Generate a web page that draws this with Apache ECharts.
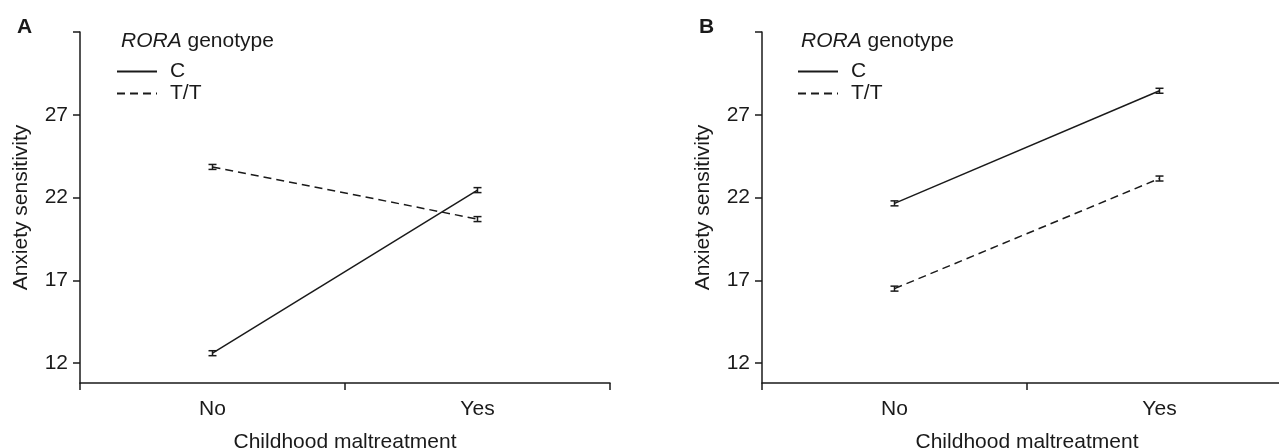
<!DOCTYPE html>
<html lang="en">

<head>
    <meta charset="UTF-8">
    <title>RORA genotype x childhood maltreatment</title>
    <style>
        * {
            margin: 0;
            padding: 0;
        }

        #chart {
            width: 1279px;
            height: 448px;
            background: #fff;
        }
    </style>
</head>

<body>
    <div id="chart"></div>

    <script src="https://cdn.jsdelivr.net/npm/echarts@6/dist/echarts.min.js"></script>
    <script>
        // data
        var categories = ['No', 'Yes'];
        var seriesNames = ['C', 'T/T'];
        var panelA_C = [12.6, 22.45];
        var panelA_TT = [23.85, 20.7];
        var panelB_C = [21.65, 28.45];
        var panelB_TT = [16.5, 23.15];
        var errA_C = [0.15, 0.15];
        var errA_TT = [0.15, 0.15];
        var errB_C = [0.15, 0.15];
        var errB_TT = [0.15, 0.15];
        var yTicks = [12, 17, 22, 27, 32];
        var yLabels = [12, 17, 22, 27];

        var font = 'Liberation Sans, Arial, sans-serif';
        var fs = 21;
        var ink = '#1a1a1a';
        var chart = echarts.init(document.getElementById('chart'));

        function errData(vals, errs) {
            return vals.map(function (v, i) {
                return [i, v - errs[i], v + errs[i]];
            });
        }

        function renderErr(params, api) {
            var lo = api.coord([api.value(0), api.value(1)]);
            var hi = api.coord([api.value(0), api.value(2)]);
            var w = 4;
            var st = { stroke: ink, lineWidth: 1.5 };
            return {
                type: 'group',
                children: [
                    { type: 'line', shape: { x1: lo[0], y1: lo[1], x2: hi[0], y2: hi[1] }, style: st },
                    { type: 'line', shape: { x1: lo[0] - w, y1: lo[1], x2: lo[0] + w, y2: lo[1] }, style: st },
                    { type: 'line', shape: { x1: hi[0] - w, y1: hi[1], x2: hi[0] + w, y2: hi[1] }, style: st }
                ]
            };
        }

        function xAxis(idx) {
            return {
                type: 'category',
                gridIndex: idx,
                data: categories,
                boundaryGap: true,
                name: 'Childhood maltreatment',
                nameLocation: 'middle',
                nameGap: 49,
                nameTextStyle: { color: ink, fontSize: fs, fontFamily: font },
                axisLine: { lineStyle: { color: ink, width: 1.5 } },
                axisTick: { show: true, interval: 0, length: 7, lineStyle: { color: ink, width: 1.5 } },
                axisLabel: { color: ink, fontSize: fs, fontFamily: font, margin: 16 },
                splitLine: { show: false }
            };
        }

        function yAxis(idx) {
            return {
                type: 'value',
                gridIndex: idx,
                min: 10.8,
                max: 32,
                name: 'Anxiety sensitivity',
                nameLocation: 'middle',
                nameRotate: 90,
                nameGap: 48,
                nameTextStyle: { color: ink, fontSize: fs, fontFamily: font },
                axisLine: { show: true, lineStyle: { color: ink, width: 1.5 } },
                axisTick: { show: true, length: 7, customValues: yTicks, lineStyle: { color: ink, width: 1.5 } },
                axisLabel: { color: ink, fontSize: fs, fontFamily: font, margin: 12, customValues: yLabels },
                splitLine: { show: false }
            };
        }

        function lineSeries(name, idx, data, dashed) {
            return {
                name: name,
                type: 'line',
                xAxisIndex: idx,
                yAxisIndex: idx,
                data: data,
                symbol: 'none',
                color: ink,
                lineStyle: { color: ink, width: 1.5, type: dashed ? [8, 5] : 'solid' },
                silent: true,
                z: 2
            };
        }

        function errSeries(idx, vals, errs) {
            return {
                type: 'custom',
                xAxisIndex: idx,
                yAxisIndex: idx,
                data: errData(vals, errs),
                renderItem: renderErr,
                silent: true,
                z: 3
            };
        }

        function legend(left) {
            return {
                data: seriesNames,
                orient: 'vertical',
                left: left,
                top: 56,
                itemWidth: 40,
                itemHeight: 14,
                itemGap: 1,
                selectedMode: false,
                itemStyle: { opacity: 0 },
                textStyle: { color: ink, fontSize: fs, fontFamily: font, lineHeight: 21, padding: [0, 0, 0, 8] }
            };
        }

        function legendTitle(left) {
            return {
                type: 'text',
                left: left,
                top: 31,
                style: {
                    text: '{i|RORA} genotype',
                    fill: ink,
                    font: fs + 'px ' + font,
                    rich: {
                        i: { fontStyle: 'italic', fontSize: fs, fontFamily: font, fill: ink }
                    }
                }
            };
        }

        var option = {
            backgroundColor: '#fff',
            animation: false,
            title: [
                { text: 'A', left: 12, top: 12, textStyle: { color: ink, fontSize: fs, fontWeight: 'bold', fontFamily: font } },
                { text: 'B', left: 694, top: 12, textStyle: { color: ink, fontSize: fs, fontWeight: 'bold', fontFamily: font } }
            ],
            grid: [
                { left: 80, top: 32, width: 530, height: 351, outerBoundsMode: 'none' },
                { left: 762, top: 32, width: 530, height: 351, outerBoundsMode: 'none' }
            ],
            legend: [legend(111), legend(792)],
            xAxis: [xAxis(0), xAxis(1)],
            yAxis: [yAxis(0), yAxis(1)],
            graphic: [legendTitle(121), legendTitle(801)],
            series: [
                lineSeries('C', 0, panelA_C, false),
                lineSeries('T/T', 0, panelA_TT, true),
                lineSeries('C', 1, panelB_C, false),
                lineSeries('T/T', 1, panelB_TT, true),
                errSeries(0, panelA_C, errA_C),
                errSeries(0, panelA_TT, errA_TT),
                errSeries(1, panelB_C, errB_C),
                errSeries(1, panelB_TT, errB_TT)
            ]
        };

        chart.setOption(option);
    </script>
</body>

</html>
